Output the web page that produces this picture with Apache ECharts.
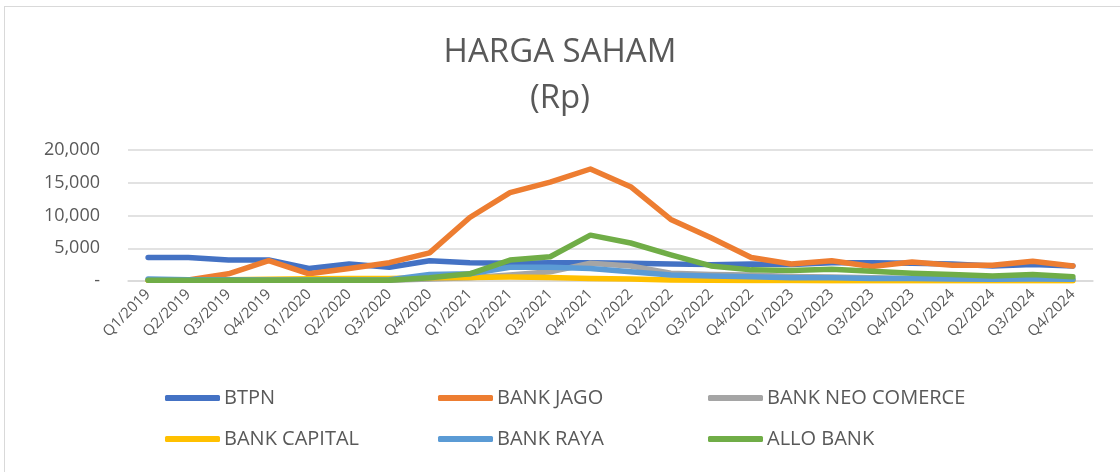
<!DOCTYPE html>
<html>
<head>
<meta charset="utf-8">
<script src="https://cdn.jsdelivr.net/npm/echarts@6/dist/echarts.min.js"></script>
<style>
  html, body { margin: 0; padding: 0; background: #fff; }
  #frame { position: absolute; left: 4px; top: 6px; width: 1200px; height: 500px; border: 1px solid #d9d9d9; }
  #chart { position: absolute; left: 0; top: 0; width: 1120px; height: 472px; }
</style>
</head>
<body>
<div id="frame"></div>
<div id="chart"></div>
<script>
// kuartal
var categories = ['Q1/2019', 'Q2/2019', 'Q3/2019', 'Q4/2019', 'Q1/2020', 'Q2/2020', 'Q3/2020', 'Q4/2020',
    'Q1/2021', 'Q2/2021', 'Q3/2021', 'Q4/2021', 'Q1/2022', 'Q2/2022', 'Q3/2022', 'Q4/2022',
    'Q1/2023', 'Q2/2023', 'Q3/2023', 'Q4/2023', 'Q1/2024', 'Q2/2024', 'Q3/2024', 'Q4/2024'];

var btpn = [3600, 3600, 3200, 3200, 1900, 2600, 2100, 3100, 2800, 2700, 2800, 2800,
    2700, 2600, 2500, 2600, 2500, 2800, 2800, 2700, 2600, 2300, 2500, 2300];
var bankJago = [100, 150, 1100, 3100, 1100, 1900, 2800, 4300, 9700, 13500, 15100, 17100,
    14400, 9400, 6600, 3600, 2600, 3100, 2200, 2900, 2400, 2400, 3000, 2300];
var bankNeo = [100, 100, 100, 100, 100, 100, 100, 300, 500, 900, 1400, 2700,
    2300, 1200, 1000, 900, 700, 600, 500, 400, 300, 250, 250, 200];
var bankCapital = [100, 100, 200, 250, 350, 400, 400, 500, 550, 600, 550, 400,
    300, 150, 100, 80, 60, 50, 50, 50, 40, 40, 40, 30];
var bankRaya = [300, 200, 200, 150, 150, 150, 200, 1000, 1100, 2100, 2100, 1900,
    1400, 900, 750, 650, 500, 500, 400, 400, 300, 250, 300, 250];
var alloBank = [100, 100, 100, 100, 100, 100, 100, 500, 1100, 3200, 3700, 7000,
    5800, 4000, 2300, 1700, 1600, 1800, 1500, 1200, 1000, 750, 1000, 650];

var yTicks = [0, 5000, 10000, 15000, 20000];

var seriesList = [
    { name: 'BTPN', data: btpn, color: '#4472C4' },
    { name: 'BANK JAGO', data: bankJago, color: '#ED7D31' },
    { name: 'BANK NEO COMERCE', data: bankNeo, color: '#A5A5A5' },
    { name: 'BANK CAPITAL', data: bankCapital, color: '#FFC000' },
    { name: 'BANK RAYA', data: bankRaya, color: '#5B9BD5' },
    { name: 'ALLO BANK', data: alloBank, color: '#70AD47' }
];

var font = '"Open Sans", sans-serif';
var textColor = '#595959';

// posisi legenda (3 kolom, 2 baris)
var legendPos = [[165, 388], [438, 388], [708, 388], [165, 429], [438, 429], [708, 429]];

var myChart = echarts.init(document.getElementById('chart'));

var option = {
    animation: false,
    title: {
        text: 'HARGA SAHAM\n(Rp)',
        left: 'center',
        top: 25,
        textStyle: {
            fontFamily: font,
            fontWeight: 'normal',
            fontSize: 33,
            lineHeight: 46,
            color: textColor
        }
    },
    legend: seriesList.map(function (s, i) {
        return {
            data: [s.name],
            left: legendPos[i][0],
            top: legendPos[i][1],
            padding: 0,
            itemWidth: 55,
            itemHeight: 6,
            icon: 'roundRect',
            textStyle: { fontFamily: font, fontSize: 20, color: textColor, padding: [0, 0, 0, -1] }
        };
    }),
    grid: { left: 128, right: 27, top: 150, bottom: 191 },
    xAxis: {
        type: 'category',
        data: categories,
        boundaryGap: true,
        axisLine: { lineStyle: { color: '#d9d9d9', width: 1.5 } },
        axisTick: { show: false },
        axisLabel: {
            rotate: 45,
            interval: 0,
            margin: 11,
            fontFamily: font,
            fontSize: 15,
            color: textColor
        }
    },
    yAxis: {
        type: 'value',
        min: yTicks[0],
        max: yTicks[yTicks.length - 1],
        interval: 5000,
        axisLine: { show: false },
        axisTick: { show: false },
        splitLine: { lineStyle: { color: '#d9d9d9', width: 1.5 } },
        axisLabel: {
            margin: 28,
            fontFamily: font,
            fontSize: 18,
            color: textColor,
            formatter: function (v) {
                return v === 0 ? '-' : v.toLocaleString('en-US');
            }
        }
    },
    series: seriesList.map(function (s) {
        return {
            name: s.name,
            type: 'line',
            data: s.data,
            symbol: 'none',
            color: s.color,
            lineStyle: { width: 5.5, cap: 'round', join: 'round' }
        };
    })
};

myChart.setOption(option);
window.addEventListener('resize', function () {
    myChart.resize();
});
</script>
</body>
</html>
